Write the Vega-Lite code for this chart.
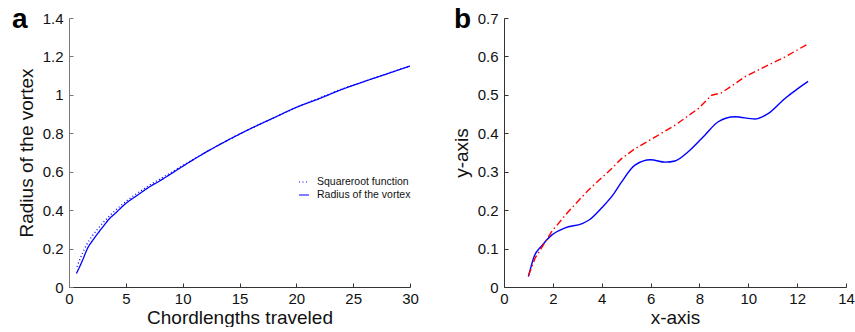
{
  "$schema": "https://vega.github.io/schema/vega-lite/v6.json",
  "padding": {"left": 12, "top": 6, "right": 0, "bottom": 0},
  "background": "white",
  "config": {
    "view": {"stroke": null},
    "font": "Liberation Sans",
    "axis": {
      "grid": false,
      "domainColor": "#333333",
      "tickColor": "#333333",
      "tickSize": -4,
      "labelPadding": 10,
      "labelFont": "Liberation Sans",
      "labelFontSize": 15,
      "labelColor": "#111111",
      "titleFont": "Liberation Sans",
      "titleFontSize": 19,
      "titleFontWeight": "normal",
      "titleColor": "#111111",
      "labelFlush": false
    },
    "axisX": {"labelPadding": 8},
    "title": {"font": "Liberation Sans", "fontSize": 28, "fontWeight": "bold", "color": "#000000"}
  },
  "datasets": {
    "panelA": [
      {"series": "Squareroot function", "x": 0.7, "y": 0.105},
      {"series": "Squareroot function", "x": 1.0, "y": 0.15},
      {"series": "Squareroot function", "x": 1.5, "y": 0.215},
      {"series": "Squareroot function", "x": 2.0, "y": 0.262},
      {"series": "Squareroot function", "x": 2.5, "y": 0.3},
      {"series": "Squareroot function", "x": 3.0, "y": 0.335},
      {"series": "Squareroot function", "x": 3.5, "y": 0.366},
      {"series": "Squareroot function", "x": 4.0, "y": 0.395},
      {"series": "Squareroot function", "x": 5.0, "y": 0.445},
      {"series": "Squareroot function", "x": 6.0, "y": 0.488},
      {"series": "Squareroot function", "x": 7.0, "y": 0.527},
      {"series": "Squareroot function", "x": 8.0, "y": 0.562},
      {"series": "Squareroot function", "x": 9.0, "y": 0.597},
      {"series": "Squareroot function", "x": 10.0, "y": 0.632},
      {"series": "Squareroot function", "x": 12.0, "y": 0.7},
      {"series": "Squareroot function", "x": 14.0, "y": 0.765},
      {"series": "Squareroot function", "x": 16.0, "y": 0.825},
      {"series": "Squareroot function", "x": 18.0, "y": 0.88},
      {"series": "Squareroot function", "x": 20.0, "y": 0.935},
      {"series": "Squareroot function", "x": 22.0, "y": 0.983},
      {"series": "Squareroot function", "x": 24.0, "y": 1.03},
      {"series": "Squareroot function", "x": 26.0, "y": 1.07},
      {"series": "Squareroot function", "x": 28.0, "y": 1.11},
      {"series": "Squareroot function", "x": 30.0, "y": 1.15},
      {"series": "Radius of the vortex", "x": 0.65, "y": 0.07},
      {"series": "Radius of the vortex", "x": 1.17, "y": 0.136},
      {"series": "Radius of the vortex", "x": 1.62, "y": 0.2},
      {"series": "Radius of the vortex", "x": 2.2, "y": 0.252},
      {"series": "Radius of the vortex", "x": 2.94, "y": 0.31},
      {"series": "Radius of the vortex", "x": 3.52, "y": 0.353},
      {"series": "Radius of the vortex", "x": 4.1, "y": 0.385},
      {"series": "Radius of the vortex", "x": 5.0, "y": 0.435},
      {"series": "Radius of the vortex", "x": 6.0, "y": 0.477},
      {"series": "Radius of the vortex", "x": 7.0, "y": 0.518},
      {"series": "Radius of the vortex", "x": 8.0, "y": 0.553},
      {"series": "Radius of the vortex", "x": 9.0, "y": 0.59},
      {"series": "Radius of the vortex", "x": 10.0, "y": 0.628},
      {"series": "Radius of the vortex", "x": 12.0, "y": 0.7},
      {"series": "Radius of the vortex", "x": 14.0, "y": 0.765},
      {"series": "Radius of the vortex", "x": 16.0, "y": 0.825},
      {"series": "Radius of the vortex", "x": 18.0, "y": 0.88},
      {"series": "Radius of the vortex", "x": 20.0, "y": 0.935},
      {"series": "Radius of the vortex", "x": 22.0, "y": 0.98},
      {"series": "Radius of the vortex", "x": 24.0, "y": 1.028},
      {"series": "Radius of the vortex", "x": 26.0, "y": 1.07},
      {"series": "Radius of the vortex", "x": 28.0, "y": 1.11},
      {"series": "Radius of the vortex", "x": 30.0, "y": 1.15}
    ],
    "panelB": [
      {"series": "blue", "x": 1.0, "y": 0.027},
      {"series": "blue", "x": 1.23, "y": 0.079},
      {"series": "blue", "x": 1.54, "y": 0.107},
      {"series": "blue", "x": 1.95, "y": 0.135},
      {"series": "blue", "x": 2.5, "y": 0.154},
      {"series": "blue", "x": 3.2, "y": 0.165},
      {"series": "blue", "x": 3.5, "y": 0.175},
      {"series": "blue", "x": 4.0, "y": 0.206},
      {"series": "blue", "x": 4.5, "y": 0.243},
      {"series": "blue", "x": 4.8, "y": 0.272},
      {"series": "blue", "x": 5.36, "y": 0.317},
      {"series": "blue", "x": 6.0, "y": 0.331},
      {"series": "blue", "x": 6.6, "y": 0.325},
      {"series": "blue", "x": 7.0, "y": 0.328},
      {"series": "blue", "x": 7.54, "y": 0.352},
      {"series": "blue", "x": 8.22, "y": 0.395},
      {"series": "blue", "x": 8.77, "y": 0.43},
      {"series": "blue", "x": 9.45, "y": 0.443},
      {"series": "blue", "x": 10.27, "y": 0.437},
      {"series": "blue", "x": 10.81, "y": 0.451},
      {"series": "blue", "x": 11.49, "y": 0.49},
      {"series": "blue", "x": 12.0, "y": 0.515},
      {"series": "blue", "x": 12.45, "y": 0.535},
      {"series": "red", "x": 1.0, "y": 0.03},
      {"series": "red", "x": 1.27, "y": 0.075},
      {"series": "red", "x": 1.95, "y": 0.144},
      {"series": "red", "x": 2.63, "y": 0.196},
      {"series": "red", "x": 3.45, "y": 0.252},
      {"series": "red", "x": 4.27, "y": 0.3},
      {"series": "red", "x": 4.81, "y": 0.334},
      {"series": "red", "x": 5.36, "y": 0.36},
      {"series": "red", "x": 6.18, "y": 0.39},
      {"series": "red", "x": 7.0, "y": 0.421},
      {"series": "red", "x": 7.95, "y": 0.464},
      {"series": "red", "x": 8.5, "y": 0.499},
      {"series": "red", "x": 8.9, "y": 0.505},
      {"series": "red", "x": 9.86, "y": 0.547},
      {"series": "red", "x": 10.67, "y": 0.573},
      {"series": "red", "x": 11.49, "y": 0.598},
      {"series": "red", "x": 12.45, "y": 0.633}
    ]
  },
  "bounds": "flush",
  "spacing": 94,
  "hconcat": [
    {
      "width": 341,
      "height": 269,
      "title": {"text": "a", "anchor": "start", "frame": "group", "dx": -57, "dy": 23, "offset": 0},
      "data": {"name": "panelA"},
      "mark": {"type": "line", "strokeWidth": 1.3, "interpolate": "monotone"},
      "encoding": {
        "x": {"field": "x", "type": "quantitative", "scale": {"domain": [0, 30], "nice": false}, "axis": {"title": "Chordlengths traveled", "values": [0, 5, 10, 15, 20, 25, 30], "titlePadding": 2}},
        "y": {"field": "y", "type": "quantitative", "scale": {"domain": [0, 1.4], "nice": false}, "axis": {"title": "Radius of the vortex", "values": [0, 0.2, 0.4, 0.6, 0.8, 1, 1.2, 1.4], "format": "~g", "titlePadding": 6, "domainColor": "#777777", "tickColor": "#777777"}},
        "color": {"field": "series", "type": "nominal", "scale": {"domain": ["Squareroot function", "Radius of the vortex"], "range": ["#0000ff", "#0000ff"]}, "legend": {"title": null, "orient": "none", "legendX": 229, "legendY": 158, "symbolType": "stroke", "symbolSize": 100, "symbolStrokeWidth": 1.2, "labelFontSize": 10.5, "labelFont": "Liberation Sans", "labelColor": "#111111", "rowPadding": 1, "labelOffset": 7, "padding": 0}},
        "strokeDash": {"field": "series", "type": "nominal", "scale": {"domain": ["Squareroot function", "Radius of the vortex"], "range": [[1, 2.5], [1, 0]]}, "legend": {"title": null, "orient": "none", "legendX": 229, "legendY": 158, "symbolType": "stroke", "symbolSize": 100, "symbolStrokeWidth": 1.2, "labelFontSize": 10.5, "labelFont": "Liberation Sans", "labelColor": "#111111", "rowPadding": 1, "labelOffset": 7, "padding": 0}}
      }
    },
    {
      "width": 342,
      "height": 269,
      "title": {"text": "b", "anchor": "start", "frame": "group", "dx": -50, "dy": 23, "offset": 0},
      "data": {"name": "panelB"},
      "encoding": {
        "x": {"field": "x", "type": "quantitative", "scale": {"domain": [0, 14], "nice": false}, "axis": {"title": "x-axis", "values": [0, 2, 4, 6, 8, 10, 12, 14], "titlePadding": 2}},
        "y": {"field": "y", "type": "quantitative", "scale": {"domain": [0, 0.7], "nice": false}, "axis": {"title": "y-axis", "values": [0, 0.1, 0.2, 0.3, 0.4, 0.5, 0.6, 0.7], "format": "~g", "titlePadding": 6}}
      },
      "layer": [
        {
          "transform": [{"filter": "datum.series === 'blue'"}],
          "mark": {"type": "line", "color": "#0000ff", "strokeWidth": 1.4, "interpolate": "monotone"}
        },
        {
          "transform": [{"filter": "datum.series === 'red'"}],
          "mark": {"type": "line", "color": "#ff0000", "strokeWidth": 1.4, "strokeDash": [7, 3, 1.5, 3]}
        }
      ]
    }
  ]
}
